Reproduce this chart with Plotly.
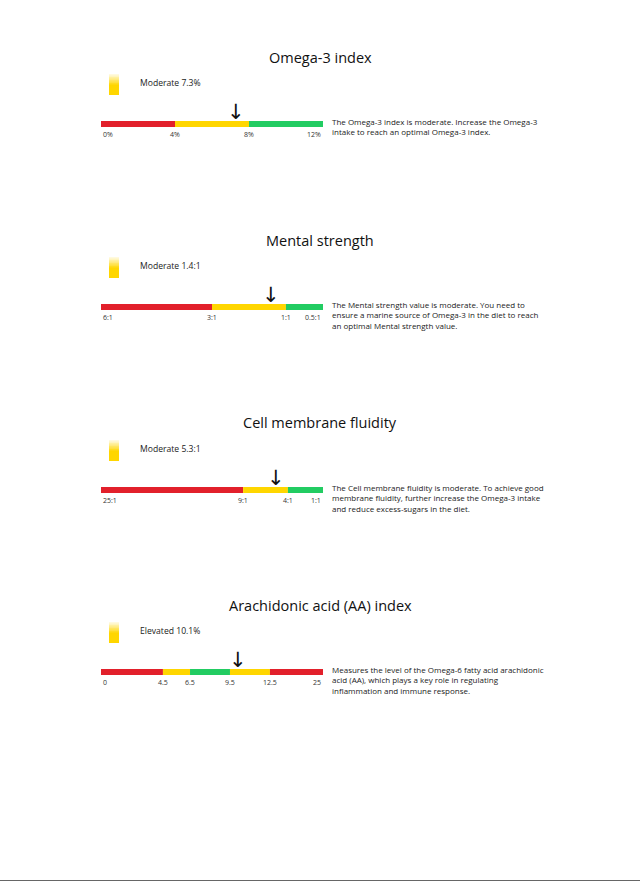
import numpy as np
import plotly.graph_objects as go

# ---------------- data ----------------
titles = ["Omega-3 index", "Mental strength", "Cell membrane fluidity", "Arachidonic acid (AA) index"]
status_labels = ["Moderate 7.3%", "Moderate 1.4:1", "Moderate 5.3:1", "Elevated 10.1%"]
values = [7.3, 1.4, 5.3, 10.1]
breakpoints = [
    [0, 4, 8, 12],
    [6, 3, 1, 0.5],
    [25, 9, 4, 1],
    [0, 4.5, 6.5, 9.5, 12.5, 25],
]
tick_labels = [
    ["0%", "4%", "8%", "12%"],
    ["6:1", "3:1", "1:1", "0.5:1"],
    ["25:1", "9:1", "4:1", "1:1"],
    ["0", "4.5", "6.5", "9.5", "12.5", "25"],
]
# relative display position of each breakpoint along the bar
break_positions = [
    [0, 1 / 3, 2 / 3, 1],
    [0, 0.5, 0.833, 1],
    [0, 0.64, 0.842, 1],
    [0, 0.279, 0.401, 0.581, 0.761, 1],
]
segment_zones = [
    ["red", "yellow", "green"],
    ["red", "yellow", "green"],
    ["red", "yellow", "green"],
    ["red", "yellow", "green", "yellow", "red"],
]
descriptions = [
    "The Omega-3 index is moderate. Increase the Omega-3<br>intake to reach an optimal Omega-3 index.",
    "The Mental strength value is moderate. You need to<br>ensure a marine source of Omega-3 in the diet to reach<br>an optimal Mental strength value.",
    "The Cell membrane fluidity is moderate. To achieve good<br>membrane fluidity, further increase the Omega-3 intake<br>and reduce excess-sugars in the diet.",
    "Measures the level of the Omega-6 fatty acid arachidonic<br>acid (AA), which plays a key role in regulating<br>inflammation and immune response.",
]

# ---------------- style ----------------
W, H = 640, 881
zone_colors = {"red": "#E2202B", "yellow": "#FFD600", "green": "#22CC62"}
FONT = "Open Sans"
panel_offsets = [0, 183, 366, 548]


def py(y):
    return 1 - y / H


def px(x):
    return x / W


fig = go.Figure()
annotations = []
layout_axes = {}

for i in range(4):
    off = panel_offsets[i]
    bx = "x" if i == 0 else f"x{2 * i + 1}"
    by = "y" if i == 0 else f"y{2 * i + 1}"
    sx = f"x{2 * i + 2}"
    sy = f"y{2 * i + 2}"
    bxk = "xaxis" if i == 0 else f"xaxis{2 * i + 1}"
    byk = "yaxis" if i == 0 else f"yaxis{2 * i + 1}"
    sxk = f"xaxis{2 * i + 2}"
    syk = f"yaxis{2 * i + 2}"

    pos = break_positions[i]
    # bar segments
    for j, zone in enumerate(segment_zones[i]):
        fig.add_trace(go.Bar(
            x=[pos[j + 1] - pos[j]], base=[pos[j]], y=[0.5], width=[1],
            orientation="h", marker=dict(color=zone_colors[zone], line=dict(width=0)),
            xaxis=bx, yaxis=by, showlegend=False, hoverinfo="skip",
        ))
    layout_axes[bxk] = dict(domain=[px(101), px(323)], range=[0, 1], visible=False,
                            fixedrange=True, anchor=by)
    layout_axes[byk] = dict(domain=[py(127 + off), py(121 + off)], range=[0, 1],
                            visible=False, fixedrange=True, anchor=bx)

    # tick labels under the bar
    n = len(tick_labels[i])
    for j, lab in enumerate(tick_labels[i]):
        xa = "left" if j == 0 else ("right" if j == n - 1 else "center")
        annotations.append(dict(
            text=lab, x=pos[j], xref=bx, y=py(134.5 + off), yref="paper",
            xanchor=xa, yanchor="middle", showarrow=False,
            font=dict(family=FONT, size=7, color="#333333"),
        ))

    # arrow marker at value
    bp = np.array(breakpoints[i], dtype=float)
    pp = np.array(pos, dtype=float)
    if bp[0] > bp[-1]:
        bp, pp = bp[::-1], pp[::-1]
    xv = float(np.interp(values[i], bp, pp))
    annotations.append(dict(
        text="↓", x=xv, xref=bx, y=py(112 + off), yref="paper",
        xanchor="center", yanchor="middle", showarrow=False,
        font=dict(family="DejaVu Sans", size=21, color="#111111"),
    ))

    # gradient swatch
    grad = np.linspace(0, 1, 30).reshape(-1, 1)
    fig.add_trace(go.Heatmap(
        z=grad, colorscale=[[0, "#FFD600"], [0.45, "#FFD600"], [1, "#FFFFFF"]],
        showscale=False, xaxis=sx, yaxis=sy, hoverinfo="skip",
    ))
    layout_axes[sxk] = dict(domain=[px(109), px(119)], visible=False, fixedrange=True, anchor=sy)
    layout_axes[syk] = dict(domain=[py(95 + off), py(73 + off)], visible=False,
                            fixedrange=True, anchor=sx)

    # status label
    annotations.append(dict(
        text=status_labels[i], x=px(138), xref="paper", y=py(83 + off), yref="paper",
        xanchor="left", yanchor="middle", showarrow=False,
        font=dict(family=FONT, size=8.6, color="#222222"),
    ))
    # title
    annotations.append(dict(
        text=titles[i], x=0.5, xref="paper", y=py(57 + off), yref="paper",
        xanchor="center", yanchor="middle", showarrow=False,
        font=dict(family=FONT, size=14.5, color="#111111"),
    ))
    # description
    annotations.append(dict(
        text=descriptions[i], x=px(330), xref="paper", y=py(114 + off), yref="paper",
        xanchor="left", yanchor="top", align="left", showarrow=False,
        font=dict(family=FONT, size=8, color="#222222"),
    ))

fig.update_layout(
    width=W, height=H, margin=dict(l=0, r=0, t=0, b=0),
    paper_bgcolor="white", plot_bgcolor="rgba(0,0,0,0)",
    showlegend=False, barmode="overlay",
    annotations=annotations,
    shapes=[dict(type="line", xref="paper", yref="paper", x0=0, x1=1,
                 y0=py(880.5), y1=py(880.5), line=dict(color="#666666", width=1))],
    **layout_axes,
)

fig.write_html("out.html", config={"displayModeBar": False})
